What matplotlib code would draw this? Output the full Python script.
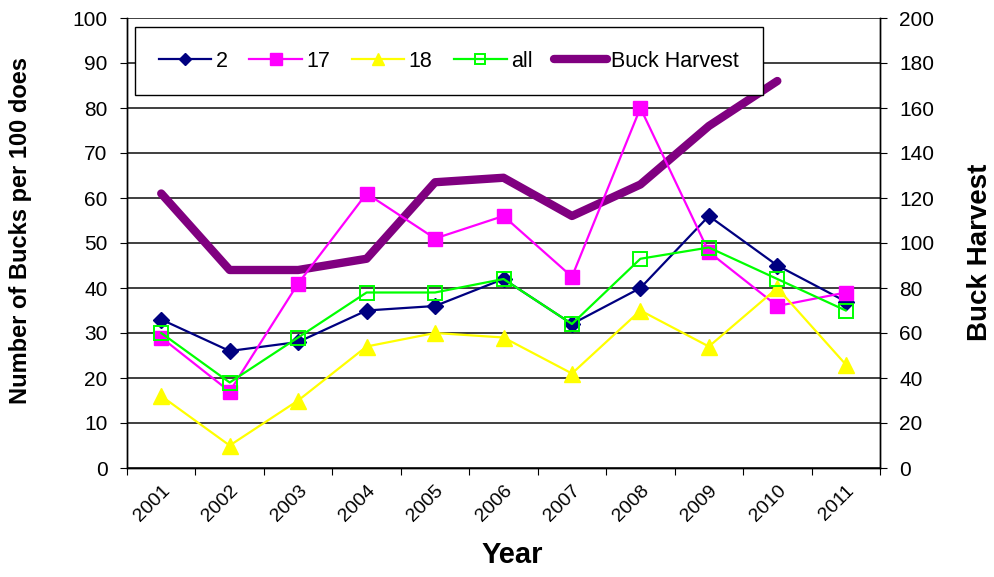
import matplotlib
matplotlib.use("Agg")
import matplotlib.pyplot as plt
import numpy as np

plt.rcParams['font.family'] = ['Liberation Sans', 'DejaVu Sans']

years = ["2001", "2002", "2003", "2004", "2005", "2006", "2007", "2008", "2009", "2010", "2011"]
s2 = [33, 26, 28, 35, 36, 42, 32, 40, 56, 45, 37]
s17 = [29, 17, 41, 61, 51, 56, 42.5, 80, 48, 36, 39]
s18 = [16, 5, 15, 27, 30, 29, 21, 35, 27, 40, 23]
s_all = [30, 19, 29, 39, 39, 42, 32, 46.5, 49, 42, 35]
harvest = [122, 88, 88, 93, 127, 129, 112, 126, 152, 172, np.nan]

x = np.arange(len(years))

fig = plt.figure(figsize=(9.94, 5.77), dpi=100)
ax = fig.add_axes([127/994, 109/577, 753/994, 450/577])
ax2 = ax.twinx()

# background + grid on the secondary axis (drawn below)
ax2.set_facecolor('#C0C0C0')
ax.set_zorder(ax2.get_zorder() + 1)
ax.patch.set_visible(False)

ax2.set_ylim(0, 200)
ax2.set_yticks(np.arange(0, 201, 20))
ax2.yaxis.grid(True, color='#303030', linewidth=1.3)
ax2.set_axisbelow(True)
l_h, = ax2.plot(x, harvest, color='#800080', linewidth=6, solid_capstyle='round',
                solid_joinstyle='round', label='Buck Harvest')

l2, = ax.plot(x, s2, color='#000080', linewidth=1.6, marker='D', markersize=8,
              markerfacecolor='#000080', markeredgecolor='#000080', label='2')
l17, = ax.plot(x, s17, color='#FF00FF', linewidth=1.6, marker='s', markersize=10,
               markerfacecolor='#FF00FF', markeredgecolor='#FF00FF', label='17')
l18, = ax.plot(x, s18, color='#FFFF00', linewidth=1.6, marker='^', markersize=11,
               markerfacecolor='#FFFF00', markeredgecolor='#FFFF00', label='18')
lall, = ax.plot(x, s_all, color='#00FF00', linewidth=1.6, marker='s', markersize=9.5,
                markerfacecolor='none', markeredgecolor='#00FF00', markeredgewidth=1.4,
                label='all')

ax.set_ylim(0, 100)
ax.set_yticks(np.arange(0, 101, 10))
ax.set_xlim(-0.5, len(years) - 0.5)
ax2.set_xlim(-0.5, len(years) - 0.5)

# category ticks between categories, labels at centres
ax.set_xticks(np.arange(-0.5, len(years), 1.0))
ax.set_xticklabels([])
ax.set_xticks(x, minor=True)
ax.set_xticklabels(years, minor=True, rotation=45, ha='right', va='top',
                   rotation_mode='anchor', fontsize=14)
ax.tick_params(axis='x', which='minor', length=0, pad=10)
ax.tick_params(axis='x', which='major', length=5, direction='out')

ax.tick_params(axis='y', labelsize=15, length=5, direction='out', pad=9)
ax2.tick_params(axis='y', labelsize=15, length=5, direction='out', pad=9)
ax2.tick_params(axis='x', which='both', length=0)

for a in (ax, ax2):
    for sp in a.spines.values():
        sp.set_color('black')
        sp.set_linewidth(1.0)
    a.spines['top'].set_visible(False)

ax.set_ylabel('Number of Bucks per 100 does', fontsize=17, fontweight='bold')
ax.yaxis.set_label_coords(-0.126, 0.527)
ax2.set_ylabel('Buck Harvest', fontsize=20, fontweight='bold')
ax2.yaxis.set_label_coords(1.1155, 0.48)
ax.set_xlabel('Year', fontsize=21, fontweight='bold')
ax.xaxis.set_label_coords(0.511, -0.163)

leg = ax.legend(handles=[l2, l17, l18, lall, l_h], loc='upper left',
                bbox_to_anchor=(0.0106, 0.98), ncol=5, frameon=True, fancybox=False,
                edgecolor='black', facecolor='white', framealpha=1, fontsize=15.5,
                handlelength=2.45, handletextpad=0.2, columnspacing=1.0,
                borderpad=1.1, borderaxespad=0, markerscale=0.8)
leg.get_frame().set_linewidth(1.0)

fig.savefig('out.png', dpi=100)
